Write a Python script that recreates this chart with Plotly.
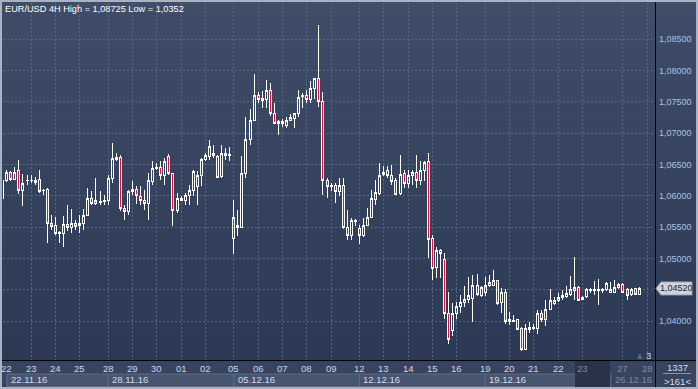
import plotly.graph_objects as go

# ---------------- data ----------------
title_text = "EUR/USD 4H High = 1,08725 Low = 1,0352"

opens = [1.0596, 1.0625, 1.0637, 1.0626, 1.0640, 1.0609, 1.0624, 1.0625, 1.0622, 1.0626,
         1.0609, 1.0610, 1.0556, 1.0552, 1.0539, 1.0540, 1.0554, 1.0550, 1.0556, 1.0552,
         1.0555, 1.0569, 1.0596, 1.0587, 1.0591, 1.0591, 1.0593, 1.0628, 1.0658, 1.0661,
         1.0580, 1.0575, 1.0607, 1.0610, 1.0599, 1.0592, 1.0587, 1.0623, 1.0644, 1.0645,
         1.0633, 1.0662, 1.0635, 1.0577, 1.0596, 1.0592, 1.0600, 1.0608, 1.0615, 1.0633,
         1.0658, 1.0662, 1.0664, 1.0662, 1.0631, 1.0664, 1.0665, 1.0532, 1.0553, 1.0550,
         1.0636, 1.0690, 1.0721, 1.0761, 1.0753, 1.0754, 1.0768, 1.0732, 1.0716, 1.0718,
         1.0713, 1.0721, 1.0724, 1.0731, 1.0758, 1.0760, 1.0754, 1.0772, 1.0787, 1.0750,
         1.0625, 1.0615, 1.0617, 1.0607, 1.0617, 1.0549, 1.0537, 1.0560, 1.0547, 1.0536,
         1.0552, 1.0566, 1.0594, 1.0604, 1.0634, 1.0640, 1.0633, 1.0624, 1.0604, 1.0636,
         1.0619, 1.0632, 1.0637, 1.0624, 1.0641, 1.0655, 1.0532, 1.0485, 1.0513, 1.0499,
         1.0412, 1.0385, 1.0412, 1.0423, 1.0429, 1.0434, 1.0436, 1.0457, 1.0441, 1.0445,
         1.0456, 1.0457, 1.0464, 1.0429, 1.0445, 1.0400, 1.0400, 1.0402, 1.0388, 1.0354,
         1.0387, 1.0388, 1.0388, 1.0412, 1.0402, 1.0419, 1.0428, 1.0432, 1.0437, 1.0439,
         1.0442, 1.0448, 1.0453, 1.0435, 1.0439, 1.0448, 1.0448, 1.0448, 1.0449, 1.0450,
         1.0445, 1.0446, 1.0453, 1.0459, 1.0450, 1.0442, 1.0452, 1.0442]
highs = [1.0626, 1.0642, 1.0640, 1.0646, 1.0657, 1.0635, 1.0633, 1.0633, 1.0630, 1.0642,
         1.0611, 1.0612, 1.0569, 1.0566, 1.0544, 1.0568, 1.0585, 1.0579, 1.0561, 1.0569,
         1.0579, 1.0612, 1.0607, 1.0628, 1.0607, 1.0601, 1.0633, 1.0685, 1.0668, 1.0665,
         1.0585, 1.0609, 1.0623, 1.0615, 1.0615, 1.0609, 1.0636, 1.0655, 1.0652, 1.0655,
         1.0660, 1.0667, 1.0636, 1.0604, 1.0600, 1.0604, 1.0617, 1.0641, 1.0639, 1.0660,
         1.0669, 1.0689, 1.0681, 1.0665, 1.0681, 1.0676, 1.0678, 1.0594, 1.0578, 1.0663,
         1.0726, 1.0738, 1.0795, 1.0766, 1.0767, 1.0785, 1.0781, 1.0749, 1.0721, 1.0722,
         1.0726, 1.0731, 1.0732, 1.0769, 1.0765, 1.0769, 1.0783, 1.0788, 1.08725, 1.0766,
         1.0628, 1.0621, 1.0620, 1.0628, 1.0628, 1.0578, 1.0564, 1.0563, 1.0553, 1.0565,
         1.0580, 1.0609, 1.0625, 1.0652, 1.0647, 1.0647, 1.0649, 1.0628, 1.0665, 1.0641,
         1.0641, 1.0642, 1.0665, 1.0655, 1.0655, 1.0669, 1.0537, 1.0519, 1.0515, 1.0508,
         1.0447, 1.0429, 1.0431, 1.0442, 1.0456, 1.0470, 1.0474, 1.0475, 1.0456, 1.0470,
         1.0474, 1.0481, 1.0466, 1.0452, 1.0451, 1.0415, 1.0410, 1.0403, 1.0391, 1.0396,
         1.0399, 1.0396, 1.0418, 1.0417, 1.0434, 1.0451, 1.0439, 1.0444, 1.0450, 1.0456,
         1.0472, 1.0502, 1.0456, 1.0440, 1.0452, 1.0453, 1.0464, 1.0467, 1.0453, 1.0462,
         1.0463, 1.0466, 1.0460, 1.0460, 1.0453, 1.0453, 1.0453, 1.0455]
lows = [1.0594, 1.0622, 1.0624, 1.0625, 1.0603, 1.0583, 1.0617, 1.0621, 1.0617, 1.0604,
        1.0601, 1.0524, 1.0545, 1.0537, 1.0524, 1.0518, 1.0543, 1.0540, 1.0545, 1.0540,
        1.0545, 1.0568, 1.0585, 1.0585, 1.0585, 1.0585, 1.0585, 1.0620, 1.0655, 1.0575,
        1.0562, 1.0569, 1.0601, 1.0587, 1.0585, 1.0577, 1.0561, 1.0617, 1.0642, 1.0625,
        1.0617, 1.0633, 1.0551, 1.0572, 1.0591, 1.0585, 1.0585, 1.0599, 1.0585, 1.0615,
        1.0655, 1.0657, 1.0660, 1.0628, 1.0628, 1.0657, 1.0655, 1.0507, 1.0535, 1.0548,
        1.0628, 1.0681, 1.0720, 1.0749, 1.0740, 1.0740, 1.0728, 1.0715, 1.0697, 1.0710,
        1.0708, 1.0719, 1.0708, 1.0726, 1.0741, 1.0749, 1.0748, 1.0754, 1.0742, 1.0601,
        1.0596, 1.0607, 1.0589, 1.0599, 1.0547, 1.0529, 1.0529, 1.0551, 1.0523, 1.0534,
        1.0551, 1.0564, 1.0585, 1.0601, 1.0631, 1.0628, 1.0617, 1.0601, 1.0601, 1.0612,
        1.0612, 1.0617, 1.0612, 1.0617, 1.0624, 1.0500, 1.0466, 1.0468, 1.0468, 1.0404,
        1.0364, 1.0376, 1.0404, 1.0412, 1.0423, 1.0428, 1.0399, 1.0440, 1.0439, 1.0440,
        1.0455, 1.0456, 1.0426, 1.0413, 1.0396, 1.0393, 1.0398, 1.0385, 1.0352, 1.0353,
        1.0381, 1.0385, 1.0380, 1.0399, 1.0392, 1.0418, 1.0426, 1.0431, 1.0433, 1.0437,
        1.0440, 1.0434, 1.0432, 1.0434, 1.0437, 1.0445, 1.0442, 1.0426, 1.0445, 1.0448,
        1.0444, 1.0445, 1.0451, 1.0445, 1.0434, 1.0440, 1.0441, 1.0441]
closes = [1.0625, 1.0637, 1.0626, 1.0638, 1.0609, 1.0620, 1.0625, 1.0624, 1.0625, 1.0607,
          1.0608, 1.0556, 1.0551, 1.0539, 1.0542, 1.0554, 1.0550, 1.0556, 1.0551, 1.0555,
          1.0569, 1.0596, 1.0587, 1.0592, 1.0590, 1.0593, 1.0628, 1.0659, 1.0661, 1.0580,
          1.0575, 1.0607, 1.0610, 1.0600, 1.0593, 1.0587, 1.0624, 1.0644, 1.0645, 1.0633,
          1.0655, 1.0635, 1.0577, 1.0596, 1.0592, 1.0601, 1.0609, 1.0639, 1.0633, 1.0658,
          1.0664, 1.0678, 1.0667, 1.0630, 1.0667, 1.0667, 1.0666, 1.0566, 1.0550, 1.0636,
          1.0690, 1.0721, 1.0760, 1.0754, 1.0755, 1.0769, 1.0732, 1.0716, 1.0718, 1.0716,
          1.0721, 1.0725, 1.0731, 1.0757, 1.0760, 1.0754, 1.0772, 1.0787, 1.0750, 1.0625,
          1.0615, 1.0616, 1.0607, 1.0617, 1.0549, 1.0537, 1.0560, 1.0559, 1.0536, 1.0552,
          1.0566, 1.0595, 1.0605, 1.0633, 1.0638, 1.0632, 1.0623, 1.0602, 1.0634, 1.0620,
          1.0632, 1.0637, 1.0625, 1.0641, 1.0654, 1.0531, 1.0484, 1.0513, 1.0508, 1.0412,
          1.0371, 1.0412, 1.0423, 1.0429, 1.0434, 1.0440, 1.0456, 1.0443, 1.0453, 1.0456,
          1.0462, 1.0464, 1.0428, 1.0445, 1.0400, 1.0402, 1.0401, 1.0387, 1.0354, 1.0388,
          1.0389, 1.0389, 1.0412, 1.0402, 1.0419, 1.0432, 1.0432, 1.0437, 1.0440, 1.0444,
          1.0451, 1.0453, 1.0433, 1.0438, 1.0451, 1.0450, 1.0451, 1.0451, 1.0450, 1.0460,
          1.0451, 1.0453, 1.0459, 1.0446, 1.0441, 1.0451, 1.0442, 1.0452]
bars = list(range(len(opens)))

day_labels = ["22", "23", "24", "25", "28", "29", "30", "01", "02", "05", "06", "07", "08",
              "09", "12", "13", "14", "15", "16", "19", "20", "21", "22", "23", "27", "28"]
day_start = [1, 7, 13, 19, 26, 32, 38, 44, 50, 57, 63, 69, 75, 81, 88, 94, 100, 106, 112,
             119, 125, 131, 137, 143, 153, 159]
day_dim = [False] * 23 + [True, True, True]

week_labels = ["22.11.16", "28.11.16", "05.12.16", "12.12.16", "19.12.16", "26.12.16"]
week_start = [1, 26, 57, 88, 119, 150]

price_ticks = [1.040, 1.045, 1.050, 1.055, 1.060, 1.065, 1.070, 1.075, 1.080, 1.085]
# the 1,04500 label is hidden behind the current-price marker, as in the original
price_labels = ["1,04000", "", "1,05000", "1,05500", "1,06000", "1,06500",
                "1,07000", "1,07500", "1,08000", "1,08500"]
last_price_text = "1,04520"
bar_count_text = "1337"
visible_text = ">161<"

# ---------------- geometry helpers ----------------
W, H = 698, 389
L, R, T, B = 3, 43, 3, 29
PW, PH = W - L - R, H - T - B
Y_RANGE = [1.03377, 1.09080]
X_RANGE = [0.07, 160.9]


def xp(px):
    return (px - L) / PW


def yp(py):
    return (H - B - py) / PH


FONT = "Liberation Sans, Arial, sans-serif"

fig = go.Figure()
fig.add_trace(go.Candlestick(
    x=bars, open=opens, high=highs, low=lows, close=closes,
    increasing=dict(line=dict(color="#ffffff", width=1), fillcolor="rgba(0,0,0,0)"),
    decreasing=dict(line=dict(color="#ffffff", width=1), fillcolor="#e0103c"),
    whiskerwidth=0, hoverinfo="skip", showlegend=False,
))

shapes = []
# vertical background gradient
top_c = (63, 77, 104)
bot_c = (44, 57, 84)
nb = 72
for i in range(nb):
    t = (i + 0.5) / nb
    c = tuple(round(top_c[k] + (bot_c[k] - top_c[k]) * t) for k in range(3))
    y0 = i * 361 / nb
    y1 = (i + 1) * 361 / nb + 0.6
    shapes.append(dict(type="rect", xref="paper", yref="paper", x0=xp(0), x1=xp(W),
                       y0=yp(y1), y1=yp(y0), fillcolor="rgb(%d,%d,%d)" % c,
                       line=dict(width=0), layer="below"))
# bottom strip
shapes.append(dict(type="rect", xref="paper", yref="paper", x0=xp(0), x1=xp(W),
                   y0=yp(H), y1=yp(360), fillcolor="#38445e", line=dict(width=0), layer="below"))
# week boxes
for i in range(len(week_labels) - 1):
    shapes.append(dict(type="rect", xref="x", yref="paper", x0=week_start[i], x1=week_start[i + 1],
                       y0=yp(386.5), y1=yp(374), fillcolor="#48556f",
                       line=dict(color="#5d6a85", width=1), layer="below"))
# dark strip region
shapes.append(dict(type="rect", xref="paper", yref="paper", x0=xp(575), x1=xp(610),
                   y0=yp(387), y1=yp(361), fillcolor="#28334a", line=dict(width=0), layer="below"))
# axis lines
shapes.append(dict(type="line", xref="paper", yref="paper", x0=xp(655.5), x1=xp(655.5),
                   y0=yp(H), y1=yp(0), line=dict(color="#000000", width=1), layer="above"))
shapes.append(dict(type="line", xref="paper", yref="paper", x0=xp(0), x1=xp(W),
                   y0=yp(360.5), y1=yp(360.5), line=dict(color="#000000", width=1), layer="above"))
# corner separator
shapes.append(dict(type="line", xref="paper", yref="paper", x0=xp(663), x1=xp(691),
                   y0=yp(373.5), y1=yp(373.5), line=dict(color="#8a96ab", width=1), layer="above"))
# current price marker
ppx = (Y_RANGE[1] - Y_RANGE[0]) / PH
lp = closes[-1]
hh = 6.5 * ppx
path = "M %f,%f L %f,%f L %f,%f L %f,%f L %f,%f Z" % (
    xp(656), lp, xp(661), lp + hh, xp(692), lp + hh, xp(692), lp - hh, xp(661), lp - hh)
shapes.append(dict(type="path", xref="paper", yref="y", path=path, fillcolor="#cfd3db",
                   line=dict(color="#9aa3b3", width=1), layer="above"))
# outer frame
shapes.append(dict(type="rect", xref="paper", yref="paper", x0=xp(1), x1=xp(W - 1),
                   y0=yp(H - 1), y1=yp(1), line=dict(color="#aab3c3", width=2),
                   fillcolor="rgba(0,0,0,0)", layer="above"))

ann = []
ann.append(dict(text=title_text, xref="paper", yref="paper", x=xp(3), y=yp(2),
                xanchor="left", yanchor="top", showarrow=False,
                font=dict(family=FONT, size=9.2, color="#ffffff")))
for lab, pos, dim in zip(day_labels, day_start, day_dim):
    ann.append(dict(text=lab, xref="x", yref="paper", x=pos, y=yp(368.5),
                    xanchor="center", yanchor="middle", showarrow=False,
                    font=dict(family=FONT, size=9.5, color="#7e8aa0" if dim else "#c9d6ec")))
for i, (lab, pos) in enumerate(zip(week_labels, week_start)):
    ann.append(dict(text=lab, xref="x", yref="paper", x=pos, y=yp(379.5), xshift=2,
                    xanchor="left", yanchor="middle", showarrow=False,
                    font=dict(family=FONT, size=9.5,
                              color="#7e8aa0" if i == len(week_labels) - 1 else "#d2dcee")))
ann.append(dict(text=last_price_text, xref="paper", yref="y", x=xp(676), y=lp,
                xanchor="center", yanchor="middle", showarrow=False,
                font=dict(family=FONT, size=9, color="#1c2434")))
ann.append(dict(text=bar_count_text, xref="paper", yref="paper", x=xp(677), y=yp(367.5),
                xanchor="center", yanchor="middle", showarrow=False,
                font=dict(family=FONT, size=9.5, color="#d2dcee")))
ann.append(dict(text=visible_text, xref="paper", yref="paper", x=xp(677), y=yp(381),
                xanchor="center", yanchor="middle", showarrow=False,
                font=dict(family=FONT, size=9.5, color="#d2dcee")))
ann.append(dict(text="▲", xref="paper", yref="paper", x=xp(639.5), y=yp(355.5),
                xanchor="center", yanchor="middle", showarrow=False,
                font=dict(family="DejaVu Sans", size=7, color="#5d6a84")))
ann.append(dict(text="3", xref="paper", yref="paper", x=xp(648), y=yp(355),
                xanchor="center", yanchor="middle", showarrow=False,
                font=dict(family=FONT, size=9.5, color="#c9d6ec")))

fig.update_layout(
    width=W, height=H,
    margin=dict(l=L, r=R, t=T, b=B, pad=0),
    paper_bgcolor="#36425c", plot_bgcolor="rgba(0,0,0,0)",
    shapes=shapes, annotations=ann, showlegend=False,
    xaxis=dict(range=X_RANGE, rangeslider=dict(visible=False), showticklabels=False,
               tickvals=day_start[1:], ticks="", showgrid=True, gridcolor="#5a6784",
               gridwidth=1, griddash="2px,2px", zeroline=False, showline=False, fixedrange=True),
    yaxis=dict(range=Y_RANGE, side="right", tickvals=price_ticks, ticktext=price_labels,
               ticks="", showgrid=True, gridcolor="#5a6784", gridwidth=1, griddash="2px,2px",
               zeroline=False, showline=False, fixedrange=True, ticklabelstandoff=3,
               tickfont=dict(family=FONT, size=9, color="#a9c3e6")),
)

post = (
    "document.body.style.margin='0px';"
    "document.querySelectorAll('.boxlayer path').forEach(function(p){"
    "p.style.shapeRendering='crispEdges';});"
)
fig.write_html("out.html", post_script=post, config={"displayModeBar": False})
